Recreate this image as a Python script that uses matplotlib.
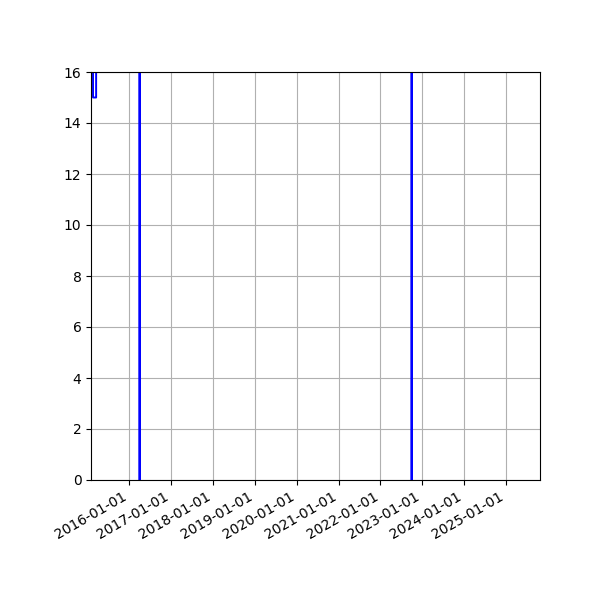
import matplotlib
matplotlib.use("Agg")
import matplotlib.pyplot as plt
import matplotlib.dates as mdates
import pandas as pd

# series values (high values are clipped by the y-limit)
dates = ["2015-02-01", "2015-02-16", "2015-02-17", "2015-03-16", "2015-03-17",
         "2016-03-16", "2016-03-30", "2016-04-13",
         "2022-09-17", "2022-10-01", "2022-10-15",
         "2025-10-26"]
values = [200, 200, 15, 15, 200,
          200, 0, 200,
          200, 0, 200,
          200]

x = pd.to_datetime(dates)

fig, ax = plt.subplots(figsize=(6, 6), dpi=100)
ax.plot(x, values, color="blue", linewidth=1.4)

ax.set_ylim(0, 16)
ax.set_xlim(x[0], x[-1])
ax.xaxis.set_major_locator(mdates.YearLocator())
ax.xaxis.set_major_formatter(mdates.DateFormatter("%Y-%m-%d"))
ax.grid(True)

fig.autofmt_xdate()
fig.subplots_adjust(left=0.152, right=0.9, top=0.88, bottom=0.2)
fig.savefig("out.png")
